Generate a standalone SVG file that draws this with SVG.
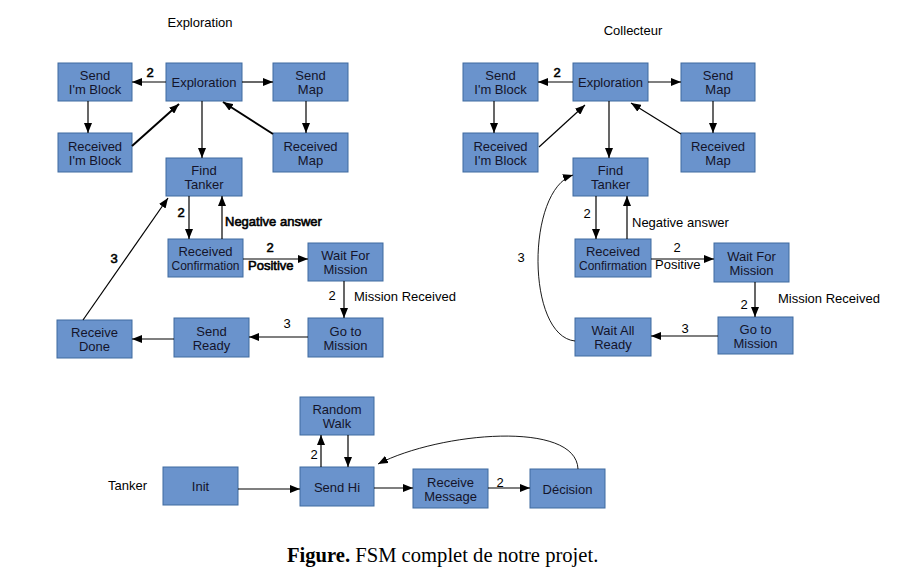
<svg xmlns="http://www.w3.org/2000/svg" width="911" height="579" viewBox="0 0 911 579">
<style>
.n rect{fill:#6a93cc;stroke:#3f6a9f;stroke-width:1}
.n text{font-family:"Liberation Sans",Arial,sans-serif;font-size:13px;fill:#14142a;text-anchor:middle}
.e line,.e path{stroke:#000;stroke-width:1.2;fill:none;marker-end:url(#ah)}
.e .thick{stroke-width:2}
.e .thin{stroke-width:0.9}
.l{font-family:"Liberation Sans",Arial,sans-serif;font-size:13px;fill:#000}
.b{stroke:#000;stroke-width:0.6}
.t{font-family:"Liberation Sans",Arial,sans-serif;font-size:13px;fill:#000}
</style>
<defs>
<marker id="ah" markerUnits="userSpaceOnUse" markerWidth="11" markerHeight="8" refX="10" refY="4" orient="auto">
<path d="M0,0 L10,4 L0,8 z" fill="#000"/>
</marker>
</defs>
<rect width="911" height="579" fill="#fff"/>
<text class="t" x="200" y="27" text-anchor="middle">Exploration</text>
<text class="t" x="633" y="35" text-anchor="middle">Collecteur</text>

<!-- Left FSM nodes -->
<g id="L_sendblock" class="n"><rect x="58" y="63" width="74" height="38"/><text x="95" y="80">Send</text><text x="95" y="94">I'm Block</text></g>
<g id="L_exploration" class="n"><rect x="166" y="63" width="76" height="38"/><text x="204" y="87">Exploration</text></g>
<g id="L_sendmap" class="n"><rect x="273" y="63" width="75" height="38"/><text x="310.5" y="80">Send</text><text x="310.5" y="94">Map</text></g>
<g id="L_recblock" class="n"><rect x="58" y="133" width="74" height="39"/><text x="95" y="150.5">Received</text><text x="95" y="164.5">I'm Block</text></g>
<g id="L_recmap" class="n"><rect x="273" y="133" width="75" height="39"/><text x="310.5" y="150.5">Received</text><text x="310.5" y="164.5">Map</text></g>
<g id="L_findtanker" class="n"><rect x="166" y="158" width="76" height="38"/><text x="204" y="175">Find</text><text x="204" y="189">Tanker</text></g>
<g id="L_recconf" class="n"><rect x="168" y="239" width="75" height="38"/><text x="205.5" y="256">Received</text><text x="205.5" y="270" style="font-size:12px">Confirmation</text></g>
<g id="L_waitmission" class="n"><rect x="308" y="243" width="75" height="38"/><text x="345.5" y="260">Wait For</text><text x="345.5" y="274">Mission</text></g>
<g id="L_gotomission" class="n"><rect x="308" y="318" width="75" height="39"/><text x="345.5" y="335.5">Go to</text><text x="345.5" y="349.5">Mission</text></g>
<g id="L_sendready" class="n"><rect x="174" y="318" width="75" height="39"/><text x="211.5" y="335.5">Send</text><text x="211.5" y="349.5">Ready</text></g>
<g id="L_receivedone" class="n"><rect x="57" y="320" width="75" height="38"/><text x="94.5" y="337">Receive</text><text x="94.5" y="351">Done</text></g>

<!-- Right FSM nodes -->
<g id="R_sendblock" class="n"><rect x="463" y="63" width="75" height="38"/><text x="500.5" y="80">Send</text><text x="500.5" y="94">I'm Block</text></g>
<g id="R_exploration" class="n"><rect x="573" y="63" width="75" height="38"/><text x="610.5" y="87">Exploration</text></g>
<g id="R_sendmap" class="n"><rect x="681" y="63" width="74" height="38"/><text x="718" y="80">Send</text><text x="718" y="94">Map</text></g>
<g id="R_recblock" class="n"><rect x="463" y="133" width="75" height="39"/><text x="500.5" y="150.5">Received</text><text x="500.5" y="164.5">I'm Block</text></g>
<g id="R_recmap" class="n"><rect x="681" y="133" width="74" height="39"/><text x="718" y="150.5">Received</text><text x="718" y="164.5">Map</text></g>
<g id="R_findtanker" class="n"><rect x="573" y="158" width="75" height="38"/><text x="610.5" y="175">Find</text><text x="610.5" y="189">Tanker</text></g>
<g id="R_recconf" class="n"><rect x="575" y="239" width="76" height="38"/><text x="613" y="256">Received</text><text x="613" y="270" style="font-size:12px">Confirmation</text></g>
<g id="R_waitmission" class="n"><rect x="714" y="243" width="75" height="39"/><text x="751.5" y="260.5">Wait For</text><text x="751.5" y="274.5">Mission</text></g>
<g id="R_gotomission" class="n"><rect x="718" y="317" width="75" height="37"/><text x="755.5" y="333.5">Go to</text><text x="755.5" y="347.5">Mission</text></g>
<g id="R_waitallready" class="n"><rect x="575" y="318" width="76" height="38"/><text x="613" y="335">Wait All</text><text x="613" y="349">Ready</text></g>

<!-- Tanker FSM nodes -->
<g id="T_randomwalk" class="n"><rect x="300" y="397" width="74" height="38"/><text x="337" y="414">Random</text><text x="337" y="428">Walk</text></g>
<g id="T_init" class="n"><rect x="163" y="467" width="75" height="38"/><text x="200.5" y="491">Init</text></g>
<g id="T_sendhi" class="n"><rect x="300" y="467" width="74" height="39"/><text x="337" y="491.5">Send Hi</text></g>
<g id="T_receivemsg" class="n"><rect x="413" y="469" width="75" height="39"/><text x="450.5" y="486.5">Receive</text><text x="450.5" y="500.5">Message</text></g>
<g id="T_decision" class="n"><rect x="530" y="469" width="75" height="39"/><text x="567.5" y="493.5">Décision</text></g>
<text class="t" x="108" y="490">Tanker</text>

<!-- Connectors -->
<g id="connectors" class="e">
<line x1="166" y1="82" x2="132" y2="82"/>
<line x1="242" y1="82" x2="273" y2="82"/>
<line x1="88" y1="101" x2="88" y2="133"/>
<line class="thick" x1="132" y1="146" x2="179" y2="104"/>
<line x1="306" y1="101" x2="306" y2="133"/>
<line class="thick" x1="273" y1="134" x2="223" y2="102"/>
<line x1="202" y1="101" x2="202" y2="158"/>
<line x1="189" y1="196" x2="189" y2="239"/>
<line x1="222" y1="239" x2="222" y2="196"/>
<line x1="243" y1="259" x2="308" y2="259"/>
<line x1="344" y1="281" x2="344" y2="318"/>
<line x1="308" y1="337" x2="249" y2="337"/>
<line x1="174" y1="339" x2="132" y2="339"/>
<line x1="83" y1="320" x2="168" y2="198"/>

<line x1="573" y1="82" x2="538" y2="82"/>
<line x1="648" y1="82" x2="681" y2="82"/>
<line x1="494" y1="101" x2="494" y2="133"/>
<line x1="539" y1="147" x2="585" y2="105"/>
<line x1="713" y1="101" x2="713" y2="133"/>
<line x1="681" y1="134" x2="631" y2="103"/>
<line x1="609" y1="101" x2="609" y2="158"/>
<line x1="596" y1="196" x2="596" y2="239"/>
<line x1="627" y1="239" x2="627" y2="196"/>
<line x1="651" y1="259" x2="714" y2="259"/>
<line x1="755" y1="282" x2="755" y2="317"/>
<line x1="718" y1="336" x2="651" y2="336"/>
<path class="thin" d="M575,341 C526,336 526,190 573,175"/>

<line x1="238" y1="489" x2="300" y2="489"/>
<line x1="321" y1="467" x2="321" y2="435"/>
<line x1="348" y1="435" x2="348" y2="467"/>
<line x1="374" y1="488" x2="413" y2="488"/>
<line x1="488" y1="488" x2="530" y2="488"/>
<path class="thin" d="M578,469 C576,420 440,432 378,464"/>
</g>

<!-- Edge labels -->
<g id="labels">
<text class="l b" x="150" y="77" text-anchor="middle">2</text>
<text class="l b" x="181" y="217" text-anchor="middle">2</text>
<text class="l b" x="225" y="226">Negative answer</text>
<text class="l b" x="270" y="252" text-anchor="middle">2</text>
<text class="l b" x="248" y="270">Positive</text>
<text class="l" x="332" y="300" text-anchor="middle">2</text>
<text class="l" x="354" y="301">Mission Received</text>
<text class="l" x="287" y="328" text-anchor="middle">3</text>
<text class="l b" x="114" y="263" text-anchor="middle">3</text>

<text class="l b" x="557" y="77" text-anchor="middle">2</text>
<text class="l" x="587" y="218" text-anchor="middle">2</text>
<text class="l" x="632" y="227">Negative answer</text>
<text class="l" x="677" y="252" text-anchor="middle">2</text>
<text class="l" x="655" y="269">Positive</text>
<text class="l" x="744" y="309" text-anchor="middle">2</text>
<text class="l" x="778" y="303">Mission Received</text>
<text class="l" x="685" y="333" text-anchor="middle">3</text>
<text class="l" x="521" y="262" text-anchor="middle">3</text>

<text class="l" x="314" y="459" text-anchor="middle">2</text>
<text class="l" x="500" y="487" text-anchor="middle">2</text>
</g>

<text x="287" y="562" style="font-family:'Liberation Serif','Times New Roman',serif;font-size:20.6px;fill:#000"><tspan font-weight="bold">Figure.</tspan> FSM complet de notre projet.</text>
</svg>
